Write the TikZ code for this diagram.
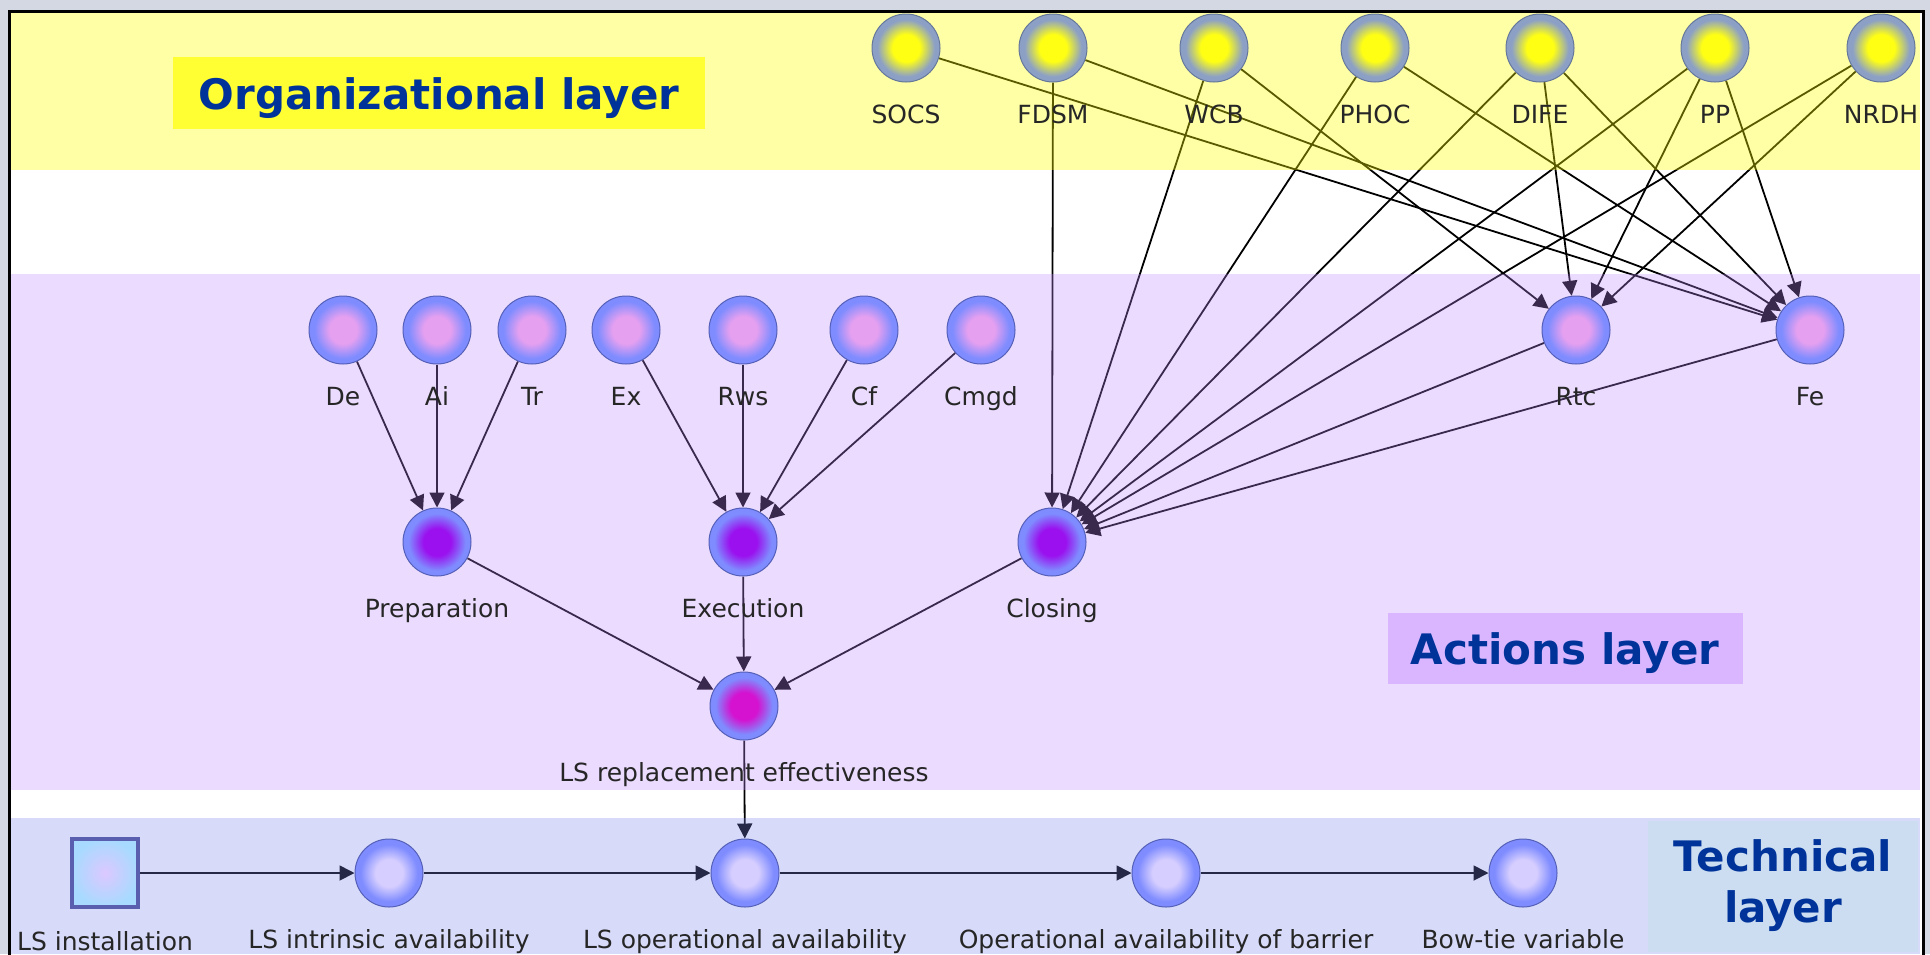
\documentclass[tikz,border=0pt]{standalone}
\usepackage{fontspec}
\setmainfont{DejaVu Sans}
\usetikzlibrary{arrows.meta}

\definecolor{framegrey}{HTML}{D4D8E2}
\definecolor{orgband}{HTML}{FFFF00}
\definecolor{actband}{HTML}{C08AFF}
\definecolor{techband}{HTML}{7D8AEE}
\definecolor{orgbox}{HTML}{FFFF33}
\definecolor{actbox}{HTML}{D9B6FF}
\definecolor{techbox}{HTML}{CCDDF2}
\definecolor{headblue}{HTML}{003399}
\definecolor{orgring}{HTML}{8CA0C6}
\definecolor{orgedge}{HTML}{66789A}
\definecolor{orgcore}{HTML}{FFFF14}
\definecolor{actring}{HTML}{7F8CFF}
\definecolor{actedge}{HTML}{5560B8}
\definecolor{topcore}{HTML}{E6A0F0}
\definecolor{midcore}{HTML}{9A10EE}
\definecolor{effcore}{HTML}{D412D0}
\definecolor{techcore}{HTML}{D6CEFF}
\definecolor{instring}{HTML}{A8DAFF}
\definecolor{instcore}{HTML}{DCC8FF}
\definecolor{instedge}{HTML}{5A5EAE}

% ring-shaped variable look, colours picked per node
\colorlet{bncore}{white}
\colorlet{bnring}{blue}
\pgfdeclareradialshading[bncore,bnring]{bnball}{\pgfpoint{0bp}{0bp}}{%
  color(0bp)=(bncore); color(10bp)=(bncore); color(21bp)=(bnring);
  color(28bp)=(bnring); color(35bp)=(bnring!70!black); color(50bp)=(bnring!70!black)}

\pgfdeclarelayer{backdrop}
\pgfdeclarelayer{links}
\pgfdeclarelayer{bands}
\pgfsetlayers{backdrop,links,bands,main}

\tikzset{
  core/.code={\colorlet{bncore}{#1}},
  ring/.code={\colorlet{bnring}{#1}},
  bnvar/.style={circle, minimum size=68pt, inner sep=0pt, line width=1pt,
    shading=bnball},
  orgvar/.style={bnvar, core=orgcore, ring=orgring, draw=orgedge},
  actvar/.style={bnvar, core=topcore, ring=actring, draw=actedge},
  stepvar/.style={bnvar, core=midcore, ring=actring, draw=actedge},
  effvar/.style={bnvar, core=effcore, ring=actring, draw=actedge},
  techvar/.style={bnvar, core=techcore, ring=actring, draw=actedge},
  instvar/.style={rectangle, minimum width=66pt, minimum height=68pt, inner sep=0pt,
    line width=4pt, draw=instedge, inner color=instcore, outer color=instring},
  every label/.style={font=\fontsize{25}{30}\selectfont, inner sep=0pt,
    text height=41pt, text depth=6pt, text=black!85},
  flow/.style={draw=black, line width=1.8pt, -{Triangle[length=15pt,width=15pt]}},
  layertitle/.style={font=\bfseries\fontsize{42}{51}\selectfont, text=headblue,
    inner sep=0pt},
}

\begin{document}
\begin{tikzpicture}[x=1pt,y=-1pt]
  \useasboundingbox (0,0) rectangle (1930,954);
  \begin{pgfonlayer}{backdrop}
    \fill[framegrey] (0,0) rectangle (1930,954);
    \fill[white] (9,11) rectangle (1923,954);
  \end{pgfonlayer}
  \begin{pgfonlayer}{bands}
    \fill[orgband, opacity=0.35] (11,12) rectangle (1920,170);
    \fill[actband, opacity=0.3] (11,274) rectangle (1920,790);
    \fill[techband, opacity=0.3] (11,818) rectangle (1920,954);
  \end{pgfonlayer}
  \draw[line width=3pt] (9,960) -- (9,11) -- (1923,11) -- (1923,960);

  % layer titles
  \node[layertitle, fill=orgbox, minimum width=532pt, minimum height=72pt,
    text height=34pt, text depth=2pt] (orgtitle) at (439,93) {Organizational layer};
  \node[layertitle, fill=actbox, minimum width=355pt, minimum height=71pt,
    text height=34pt, text depth=2pt] (acttitle) at (1565,648) {Actions layer};
  \node[layertitle, fill=techbox, minimum width=270pt, minimum height=131pt,
    align=center] (techtitle) at (1783,886) {Technical\\layer};

  % organizational layer
  \node[orgvar, label=below:SOCS] (socs) at (906,48) {};
  \node[orgvar, label=below:FDSM] (fdsm) at (1053,48) {};
  \node[orgvar, label=below:WCB] (wcb) at (1214,48) {};
  \node[orgvar, label=below:PHOC] (phoc) at (1375,48) {};
  \node[orgvar, label=below:DIFE] (dife) at (1540,48) {};
  \node[orgvar, label=below:PP] (pp) at (1715,48) {};
  \node[orgvar, label=below:NRDH] (nrdh) at (1881,48) {};

  % actions layer
  \node[actvar, label=below:De] (de) at (343,330) {};
  \node[actvar, label=below:Ai] (ai) at (437,330) {};
  \node[actvar, label=below:Tr] (tr) at (532,330) {};
  \node[actvar, label=below:Ex] (ex) at (626,330) {};
  \node[actvar, label=below:Rws] (rws) at (743,330) {};
  \node[actvar, label=below:Cf] (cf) at (864,330) {};
  \node[actvar, label=below:Cmgd] (cmgd) at (981,330) {};
  \node[actvar, label=below:Rtc] (rtc) at (1576,330) {};
  \node[actvar, label=below:Fe] (fe) at (1810,330) {};
  \node[stepvar, label=below:Preparation] (prep) at (437,542) {};
  \node[stepvar, label=below:Execution] (exec) at (743,542) {};
  \node[stepvar, label=below:Closing] (closing) at (1052,542) {};
  \node[effvar, label=below:LS replacement effectiveness] (lsrepl) at (744,706) {};

  % technical layer
  \node[instvar, label=below:LS installation] (lsinst) at (105,873) {};
  \node[techvar, label=below:LS intrinsic availability] (lsintr) at (389,873) {};
  \node[techvar, label=below:LS operational availability] (lsoper) at (745,873) {};
  \node[techvar, label=below:Operational availability of barrier] (opbarr) at (1166,873) {};
  \node[techvar, label=below:Bow-tie variable] (bowtie) at (1523,873) {};

  \begin{pgfonlayer}{links}
    \draw[flow] (de) edge (prep) (ai) edge (prep) (tr) edge (prep);
    \draw[flow] (ex) edge (exec) (rws) edge (exec) (cf) edge (exec) (cmgd) edge (exec);
    \draw[flow] (socs) edge (fe) (fdsm) edge (closing) (fdsm) edge (fe);
    \draw[flow] (wcb) edge (closing) (wcb) edge (rtc);
    \draw[flow] (phoc) edge (closing) (phoc) edge (fe);
    \draw[flow] (dife) edge (closing) (dife) edge (rtc) (dife) edge (fe);
    \draw[flow] (pp) edge (closing) (pp) edge (rtc) (pp) edge (fe);
    \draw[flow] (nrdh) edge (closing) (nrdh) edge (rtc);
    \draw[flow] (rtc) edge (closing) (fe) edge (closing);
    \draw[flow] (prep) edge (lsrepl) (exec) edge (lsrepl) (closing) edge (lsrepl);
    \draw[flow] (lsrepl) edge (lsoper);
    \draw[flow] (lsinst) edge (lsintr) (lsintr) edge (lsoper) (lsoper) edge (opbarr)
      (opbarr) edge (bowtie);
  \end{pgfonlayer}
\end{tikzpicture}
\end{document}
